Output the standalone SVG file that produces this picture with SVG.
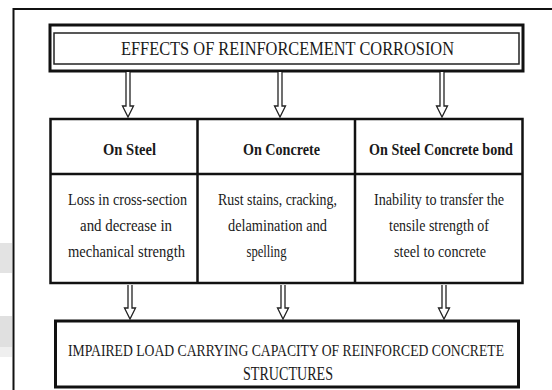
<svg xmlns="http://www.w3.org/2000/svg" width="552" height="390" viewBox="0 0 552 390">
<style>
text{font-family:"Liberation Serif","Times New Roman",serif;fill:#1a1a1a;text-anchor:middle}
.t{font-size:18px}
.r{font-size:17px}
.h{font-size:17px;font-weight:bold}
.b{font-size:17px}
.box{fill:#fff;stroke:#111;stroke-width:3}
.thin{fill:none;stroke:#222;stroke-width:1.5}
.grid{stroke:#111;stroke-width:2.5;fill:none}
.arr{fill:#fff;stroke:#222;stroke-width:1.3;stroke-linejoin:miter}
</style>
<rect width="552" height="390" fill="#fff"/>
<rect x="0" y="243" width="12" height="30" fill="#e3e3e3"/>
<rect x="0" y="316" width="12" height="31" fill="#e0e0e0"/>
<rect x="0" y="347" width="12" height="10" fill="#efefef"/>
<path d="M13.5 390 V9 H552" fill="none" stroke="#111" stroke-width="2"/>

<g id="title">
<rect class="box" x="50" y="25" width="473" height="46"/>
<rect class="thin" x="54" y="33" width="465" height="31"/>
<text class="t" x="287.5" y="55" textLength="333" lengthAdjust="spacingAndGlyphs">EFFECTS OF REINFORCEMENT CORROSION</text>
</g>

<g id="table">
<rect class="grid" x="50.5" y="119" width="472" height="164"/>
<path class="grid" d="M50.5 174 H522.5 M197.5 119 V283 M355 119 V283"/>
</g>

<g id="on-steel">
<text class="h" x="129.5" y="155" textLength="53" lengthAdjust="spacingAndGlyphs">On Steel</text>
<text class="b" x="127.5" y="205" textLength="119" lengthAdjust="spacingAndGlyphs">Loss in cross-section</text>
<text class="b" x="126" y="231" textLength="92" lengthAdjust="spacingAndGlyphs">and decrease in</text>
<text class="b" x="126.5" y="257" textLength="117" lengthAdjust="spacingAndGlyphs">mechanical strength</text>
</g>

<g id="on-concrete">
<text class="h" x="281.5" y="155" textLength="77" lengthAdjust="spacingAndGlyphs">On Concrete</text>
<text class="b" x="277.5" y="205" textLength="119" lengthAdjust="spacingAndGlyphs">Rust stains, cracking,</text>
<text class="b" x="277.5" y="231" textLength="99" lengthAdjust="spacingAndGlyphs">delamination and</text>
<text class="b" x="266.5" y="257" textLength="40" lengthAdjust="spacingAndGlyphs">spelling</text>
</g>

<g id="on-bond">
<text class="h" x="441" y="155" textLength="144" lengthAdjust="spacingAndGlyphs">On Steel Concrete bond</text>
<text class="b" x="439" y="205" textLength="130" lengthAdjust="spacingAndGlyphs">Inability to transfer the</text>
<text class="b" x="439" y="231" textLength="100" lengthAdjust="spacingAndGlyphs">tensile strength of</text>
<text class="b" x="440" y="257" textLength="92" lengthAdjust="spacingAndGlyphs">steel to concrete</text>
</g>

<g id="result">
<rect class="box" x="55.5" y="321" width="463" height="66"/>
<text class="r" x="286" y="356" textLength="436" lengthAdjust="spacingAndGlyphs">IMPAIRED LOAD CARRYING CAPACITY OF REINFORCED CONCRETE</text>
<text class="t" x="288" y="380" textLength="90" lengthAdjust="spacingAndGlyphs">STRUCTURES</text>
</g>

<g id="connectors">
<path class="arr" d="M126 72 V106 H122.5 L128 117 L133.5 106 H130 V72"/>
<path class="arr" d="M278 72 V106 H274.5 L280 117 L285.5 106 H282 V72"/>
<path class="arr" d="M440 72 V106 H436.5 L442 117 L447.5 106 H444 V72"/>
<path class="arr" d="M128 285 V308 H124.5 L130 319 L135.5 308 H132 V285"/>
<path class="arr" d="M281 285 V308 H277.5 L283 319 L288.5 308 H285 V285"/>
<path class="arr" d="M442 285 V308 H438.5 L444 319 L449.5 308 H446 V285"/>
</g>
</svg>
